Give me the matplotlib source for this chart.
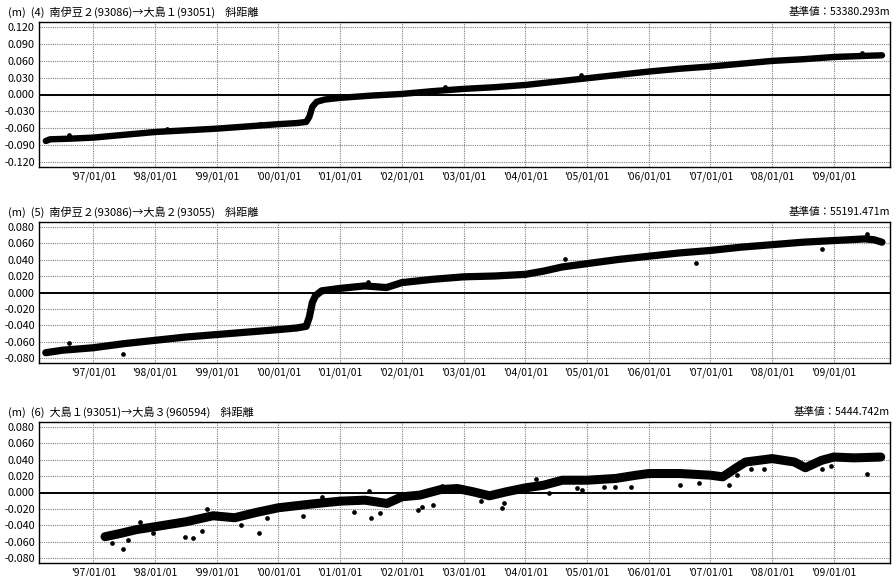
import matplotlib
matplotlib.use("Agg")
import matplotlib.pyplot as plt

plt.rcParams['font.family'] = ['Noto Sans CJK JP', 'DejaVu Sans']

# --- baseline (4): 南伊豆2 -> 大島1 ---
p1_years = [1996.23, 1996.30, 1996.60, 1997.00, 1997.50, 1998.00, 1998.50, 1999.00,
            1999.50, 2000.00, 2000.30, 2000.45, 2000.50, 2000.55, 2000.62, 2000.75,
            2001.00, 2001.50, 2002.00, 2002.50, 2003.00, 2003.50, 2004.00, 2004.50,
            2005.00, 2005.50, 2006.00, 2006.50, 2007.00, 2007.50, 2008.00, 2008.50,
            2009.00, 2009.50, 2009.78]
p1_values = [-0.083, -0.080, -0.079, -0.077, -0.072, -0.067, -0.064, -0.061,
             -0.057, -0.053, -0.051, -0.049, -0.040, -0.022, -0.013, -0.009,
             -0.006, -0.002, 0.001, 0.006, 0.010, 0.013, 0.017, 0.023,
             0.029, 0.035, 0.041, 0.046, 0.050, 0.055, 0.060, 0.063,
             0.067, 0.069, 0.070]
p1_out_years = [1996.60, 1998.20, 1999.70, 2002.70, 2004.90, 2006.60, 2009.45]
p1_out_values = [-0.0716, -0.061, -0.052, 0.013, 0.034, 0.049, 0.074]

# --- baseline (5): 南伊豆2 -> 大島2 ---
p2_years = [1996.23, 1996.50, 1997.00, 1997.50, 1998.00, 1998.50, 1999.00, 1999.50,
            2000.00, 2000.30, 2000.45, 2000.50, 2000.55, 2000.60, 2000.70, 2001.00,
            2001.40, 2001.75, 2002.00, 2002.50, 2003.00, 2003.50, 2004.00, 2004.30,
            2004.60, 2005.00, 2005.50, 2006.00, 2006.50, 2007.00, 2007.50, 2008.00,
            2008.50, 2009.00, 2009.50, 2009.65, 2009.78]
p2_values = [-0.073, -0.070, -0.067, -0.062, -0.058, -0.054, -0.051, -0.048,
             -0.045, -0.043, -0.041, -0.030, -0.012, -0.004, 0.002, 0.005,
             0.008, 0.006, 0.012, 0.016, 0.019, 0.020, 0.022, 0.026,
             0.031, 0.035, 0.040, 0.044, 0.048, 0.051, 0.055, 0.058,
             0.061, 0.063, 0.065, 0.064, 0.061]
p2_out_years = [1996.60, 1997.48, 2001.45, 2004.64, 2006.77, 2008.80, 2009.54]
p2_out_values = [-0.0618, -0.0747, 0.013, 0.0408, 0.036, 0.0525, 0.0707]

# --- baseline (6): 大島1 -> 大島3 ---
p3_years = [1997.19, 1997.44, 1997.70, 1998.00, 1998.50, 1998.94, 1999.29, 1999.64,
            2000.00, 2000.52, 2001.00, 2001.40, 2001.76, 2002.00, 2002.29, 2002.63,
            2002.90, 2003.16, 2003.42, 2003.69, 2004.00, 2004.30, 2004.60, 2005.00,
            2005.46, 2005.80, 2006.00, 2006.51, 2007.00, 2007.20, 2007.40, 2007.57,
            2008.00, 2008.36, 2008.54, 2008.80, 2009.00, 2009.33, 2009.76]
p3_values = [-0.0536, -0.0496, -0.0450, -0.0415, -0.0355, -0.0282, -0.0306, -0.0242,
             -0.0185, -0.0141, -0.0105, -0.0093, -0.0133, -0.0052, -0.0032, 0.0036,
             0.0048, 0.0008, -0.0040, 0.0008, 0.0056, 0.0089, 0.0149, 0.0149,
             0.0170, 0.0210, 0.0230, 0.0230, 0.0210, 0.0190, 0.0290, 0.0370,
             0.0411, 0.0370, 0.0300, 0.0390, 0.0430, 0.0420, 0.0430]
p3_out_years = [1997.31, 1997.48, 1997.57, 1997.75, 1997.97, 1998.48, 1998.62, 1998.76,
                1998.85, 1999.39, 1999.68, 1999.82, 2000.39, 2000.70, 2001.23, 2001.46,
                2001.50, 2001.65, 2002.26, 2002.33, 2002.50, 2002.65, 2003.29, 2003.62,
                2003.65, 2004.17, 2004.39, 2004.83, 2004.92, 2005.27, 2005.45, 2005.72,
                2006.51, 2006.82, 2007.30, 2007.43, 2007.65, 2007.87, 2008.80, 2008.96,
                2009.54]
p3_out_values = [-0.0617, -0.0685, -0.0577, -0.0355, -0.0496, -0.0536, -0.0548, -0.0468,
                 -0.0202, -0.0395, -0.0496, -0.0315, -0.0282, -0.0052, -0.0234, 0.0024,
                 -0.0315, -0.0254, -0.0214, -0.0173, -0.0153, 0.0081, -0.0105, -0.0185,
                 -0.0133, 0.0161, -0.0012, 0.0056, 0.0028, 0.0069, 0.0069, 0.0069,
                 0.0089, 0.0121, 0.0097, 0.0210, 0.0290, 0.0290, 0.0280, 0.0320,
                 0.0230]

tick_years = list(range(1997, 2010))
tick_labels = ["'%02d/01/01" % (y % 100) for y in tick_years]

panels = [
    dict(title="(m)  (4)  南伊豆２(93086)→大島１(93051)    斜距離",
         base="基準値：53380.293m",
         years=p1_years, values=p1_values, oy=p1_out_years, ov=p1_out_values,
         yticks=[-0.120, -0.090, -0.060, -0.030, 0.000, 0.030, 0.060, 0.090, 0.120],
         ylim=(-0.1295, 0.1295), lw=4.6,
         box=(22, 167)),
    dict(title="(m)  (5)  南伊豆２(93086)→大島２(93055)    斜距離",
         base="基準値：55191.471m",
         years=p2_years, values=p2_values, oy=p2_out_years, ov=p2_out_values,
         yticks=[-0.080, -0.060, -0.040, -0.020, 0.000, 0.020, 0.040, 0.060, 0.080],
         ylim=(-0.0855, 0.0855), lw=5.2,
         box=(222, 363)),
    dict(title="(m)  (6)  大島１(93051)→大島３(960594)    斜距離",
         base="基準値：5444.742m",
         years=p3_years, values=p3_values, oy=p3_out_years, ov=p3_out_values,
         yticks=[-0.080, -0.060, -0.040, -0.020, 0.000, 0.020, 0.040, 0.060, 0.080],
         ylim=(-0.0855, 0.0855), lw=6.5,
         box=(422, 563)),
]

W, H = 892, 576
fig = plt.figure(figsize=(W / 100, H / 100), dpi=100)
left_px, right_px = 39, 890

for p in panels:
    top_px, bot_px = p["box"]
    ax = fig.add_axes([left_px / W, 1 - bot_px / H,
                       (right_px - left_px) / W, (bot_px - top_px) / H])
    ax.set_xlim(1996.12, 2009.91)
    ax.set_ylim(*p["ylim"])
    ax.set_xticks(tick_years)
    ax.set_xticklabels(tick_labels, fontsize=7.4)
    ax.set_yticks(p["yticks"])
    ax.set_yticklabels(["%.3f" % v if v >= 0 else "-%.3f" % abs(v) for v in p["yticks"]],
                       fontsize=7.8)
    ax.tick_params(length=0, pad=3)
    ax.grid(True, color="#808080", linestyle=(0, (1, 1)), linewidth=0.8)
    ax.axhline(0.0, color="black", linewidth=1.4, zorder=2)
    for s in ax.spines.values():
        s.set_linewidth(1.0)
        s.set_color("black")
    ax.plot(p["years"], p["values"], color="black", linewidth=p["lw"],
            solid_capstyle="round", solid_joinstyle="round", zorder=3)
    ax.plot(p["oy"], p["ov"], "o", color="black", markersize=3.4,
            markeredgewidth=0, zorder=3)
    fig.text(8 / W, 1 - (top_px - 10) / H, p["title"], fontsize=8.0,
             ha="left", va="center")
    fig.text(890 / W, 1 - (top_px - 10) / H, p["base"], fontsize=7.6,
             ha="right", va="center")

fig.savefig("out.png", dpi=100)
